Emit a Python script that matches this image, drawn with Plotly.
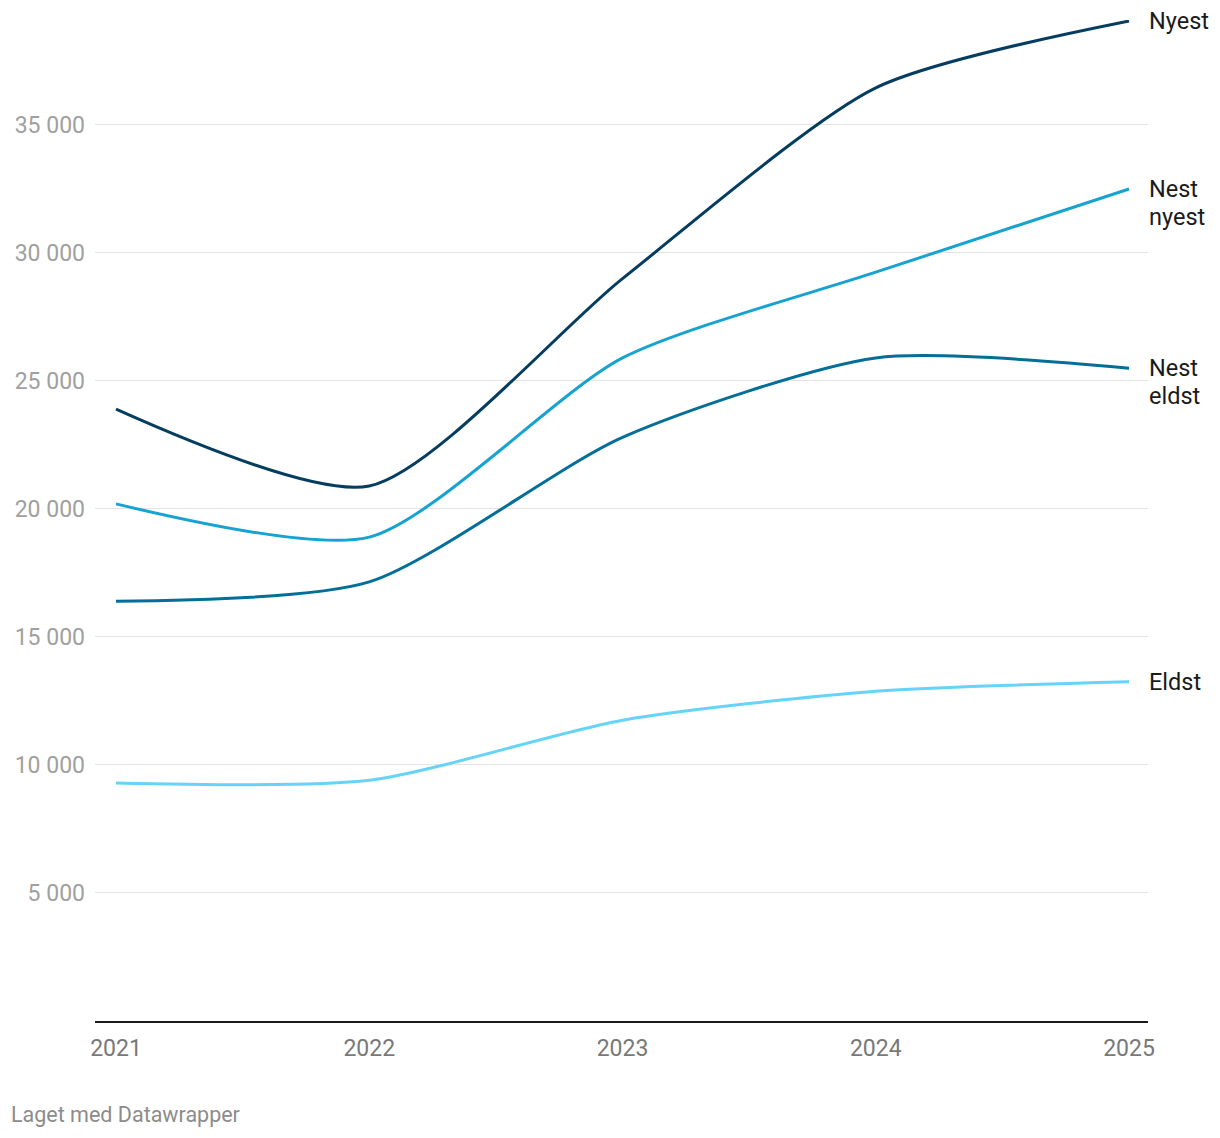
import plotly.graph_objects as go

years = [2021, 2022, 2023, 2024, 2025]
nyest = [23900, 20900, 29000, 36450, 39060]
nest_nyest = [20200, 18900, 25900, 29250, 32500]
nest_eldst = [16400, 17150, 22800, 25900, 25500]
eldst = [9300, 9400, 11750, 12880, 13250]

series = [
    (["Nyest"], nyest, "#053d60"),
    (["Nest", "nyest"], nest_nyest, "#17a3d2"),
    (["Nest", "eldst"], nest_eldst, "#036f98"),
    (["Eldst"], eldst, "#66d3f8"),
]

y_ticks = [5000, 10000, 15000, 20000, 25000, 30000, 35000]
y_ticktext = ["5 000", "10 000", "15 000", "20 000", "25 000", "30 000", "35 000"]

fig = go.Figure()
for names, vals, color in series:
    fig.add_trace(go.Scatter(
        x=years, y=vals, mode="lines", name=" ".join(names),
        line=dict(color=color, width=3, shape="spline", smoothing=0.7),
        cliponaxis=False, hoverinfo="x+y",
    ))

annotations = []
for names, vals, color in series:
    for i, nm in enumerate(names):
        annotations.append(dict(
            x=years[-1], y=vals[-1], xref="x", yref="y", text=nm,
            showarrow=False, xanchor="left", yanchor="middle",
            yshift=-28 * i, xshift=18, align="left",
            font=dict(family="Roboto", size=23.5, color="#1a1a1a"),
        ))
annotations.append(dict(
    x=0, y=0, xref="paper", yref="paper", xanchor="left", yanchor="middle",
    xshift=-86, yshift=-93, text="Laget med Datawrapper", showarrow=False,
    font=dict(family="Roboto", size=21.5, color="#8c8c8c"),
))

fig.update_layout(
    width=1212, height=1130,
    margin=dict(l=87, r=72, t=12, b=117, autoexpand=False),
    paper_bgcolor="white", plot_bgcolor="white",
    showlegend=False,
    annotations=annotations,
    font=dict(family="Roboto"),
    xaxis=dict(
        range=[2020.917, 2025.075], tickvals=years, ticktext=[str(y) for y in years],
        showgrid=False, zeroline=False, showline=True, linecolor="#1a1a1a", linewidth=2,
        ticks="", tickfont=dict(family="Roboto", size=23, color="#787878"),
        ticklabelstandoff=5, automargin=False,
    ),
    yaxis=dict(
        range=[0, 39100], tickvals=y_ticks, ticktext=y_ticktext,
        showgrid=True, gridcolor="#e3e3e3", gridwidth=1, zeroline=False,
        ticks="", tickfont=dict(family="Roboto", size=23, color="#a0a0a0"),
        ticklabelstandoff=9, automargin=False,
    ),
)

fig.write_html("out.html")
